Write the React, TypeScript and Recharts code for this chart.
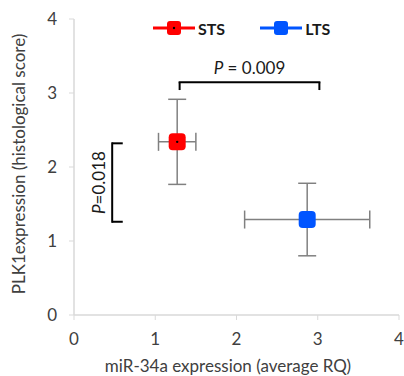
import {
  ScatterChart,
  Scatter,
  XAxis,
  YAxis,
  ErrorBar,
  ReferenceLine,
  ReferenceDot,
  Legend,
} from "recharts";

// groups and their means / errors
const groups = ["STS", "LTS"];
const groupColors = ["#ff0000", "#0055ff"];
const mirMean = [1.27, 2.87];
const mirErr = [0.23, 0.77];
const plkMean = [2.34, 1.29];
const plkErr = [0.575, 0.49];
const axisTicks = [0, 1, 2, 3, 4];

// significance brackets (data coordinates)
const topBracket = { x1: 1.3, x2: 3.02, y: 3.145, tip: 3.04, p: "0.009" };
const sideBracket = { x: 0.47, tip: 0.6, y1: 1.26, y2: 2.32, p: "0.018" };

const font = "Lato, 'Open Sans', sans-serif";
const textColor = "#404040";
const axisColor = "#d9d9d9";

const seriesData = groups.map((g, i) => [
  { x: mirMean[i], y: plkMean[i], xErr: mirErr[i], yErr: plkErr[i] },
]);

function RoundSquare(props: any) {
  const { cx, cy, fill, dot } = props;
  const s = 17;
  return (
    <g>
      <rect x={cx - s / 2} y={cy - s / 2} width={s} height={s} rx={4} fill={fill} />
      {dot && <circle cx={cx} cy={cy} r={1.2} fill="#000" />}
    </g>
  );
}

function renderLegend() {
  return (
    <div style={{ display: "flex", alignItems: "center", fontFamily: font }}>
      {groups.map((g, i) => (
        <div
          key={g}
          style={{ display: "flex", alignItems: "center", marginRight: i === 0 ? 35 : 0 }}
        >
          <svg width={42} height={20} style={{ display: "block" }}>
            <line x1={0} y1={10} x2={42} y2={10} stroke={groupColors[i]} strokeWidth={3} />
            <rect x={14} y={3} width={14} height={14} rx={3} fill={groupColors[i]} />
            {i === 0 && <circle cx={21} cy={10} r={1.2} fill="#000" />}
          </svg>
          <span style={{ fontWeight: 700, fontSize: 16, marginLeft: 3, color: "#1a1a1a" }}>
            {g}
          </span>
        </div>
      ))}
    </div>
  );
}

export default function App() {
  return (
    <div style={{ position: "absolute", left: 0, top: 0, background: "#fff" }}>
      <ScatterChart
        width={404}
        height={376}
        margin={{ top: 19, right: 5, bottom: 0, left: 0 }}
      >
        <XAxis
          type="number"
          dataKey="x"
          domain={[0, 4]}
          ticks={axisTicks}
          height={61}
          tickSize={5}
          tickMargin={13}
          axisLine={{ stroke: axisColor, strokeWidth: 1.5 }}
          tickLine={{ stroke: axisColor }}
          tick={{ fill: textColor, fontSize: 17, fontFamily: font }}
          label={{
            content: () => (
              <text
                x={228}
                y={372}
                textAnchor="middle"
                fill={textColor}
                fontSize={17}
                fontFamily={font}
              >
                miR-34a expression (average RQ)
              </text>
            ),
          }}
        />
        <YAxis
          type="number"
          dataKey="y"
          domain={[0, 4]}
          ticks={axisTicks}
          width={74}
          tickSize={5}
          tickMargin={12}
          axisLine={{ stroke: axisColor, strokeWidth: 1.5 }}
          tickLine={{ stroke: axisColor }}
          tick={{ fill: textColor, fontSize: 17, fontFamily: font }}
          label={{
            content: () => (
              <text
                x={25}
                y={164}
                transform="rotate(-90, 25, 164)"
                textAnchor="middle"
                fill={textColor}
                fontSize={17}
                fontFamily={font}
              >
                PLK1expression (histological score)
              </text>
            ),
          }}
        />
        <Legend
          verticalAlign="middle"
          align="center"
          wrapperStyle={{ top: 18, left: 153, width: "auto" }}
          content={renderLegend}
        />

        {/* top bracket */}
        <ReferenceLine
          segment={[{ x: topBracket.x1, y: topBracket.y }, { x: topBracket.x2, y: topBracket.y }]}
          stroke="#000"
          strokeWidth={2}
          strokeLinecap="square"
        />
        <ReferenceLine
          segment={[{ x: topBracket.x1, y: topBracket.y }, { x: topBracket.x1, y: topBracket.tip }]}
          stroke="#000"
          strokeWidth={2}
        />
        <ReferenceLine
          segment={[{ x: topBracket.x2, y: topBracket.y }, { x: topBracket.x2, y: topBracket.tip }]}
          stroke="#000"
          strokeWidth={2}
        />
        <ReferenceDot
          x={(topBracket.x1 + topBracket.x2) / 2}
          y={topBracket.y}
          r={0}
          stroke="none"
          label={{
            content: (p: any) => (
              <text
                x={p.viewBox.x}
                y={p.viewBox.y - 8.5}
                textAnchor="middle"
                fill="#1a1a1a"
                fontSize={17}
                fontFamily={font}
              >
                <tspan fontStyle="italic">P</tspan> = {topBracket.p}
              </text>
            ),
          }}
        />

        {/* side bracket */}
        <ReferenceLine
          segment={[{ x: sideBracket.x, y: sideBracket.y1 }, { x: sideBracket.x, y: sideBracket.y2 }]}
          stroke="#000"
          strokeWidth={2}
          strokeLinecap="square"
        />
        <ReferenceLine
          segment={[{ x: sideBracket.x, y: sideBracket.y1 }, { x: sideBracket.tip, y: sideBracket.y1 }]}
          stroke="#000"
          strokeWidth={2}
        />
        <ReferenceLine
          segment={[{ x: sideBracket.x, y: sideBracket.y2 }, { x: sideBracket.tip, y: sideBracket.y2 }]}
          stroke="#000"
          strokeWidth={2}
        />
        <ReferenceDot
          x={sideBracket.x}
          y={(sideBracket.y1 + sideBracket.y2) / 2}
          r={0}
          stroke="none"
          label={{
            content: (p: any) => {
              const tx = p.viewBox.x - 7;
              const ty = p.viewBox.y;
              return (
                <text
                  x={tx}
                  y={ty}
                  transform={`rotate(-90, ${tx}, ${ty})`}
                  textAnchor="middle"
                  fill="#1a1a1a"
                  fontSize={17}
                  fontFamily={font}
                >
                  <tspan fontStyle="italic">P</tspan>={sideBracket.p}
                </text>
              );
            },
          }}
        />

        {groups.map((g, i) => (
          <Scatter
            key={g}
            name={g}
            data={seriesData[i]}
            fill={groupColors[i]}
            isAnimationActive={false}
            shape={(p: any) => <RoundSquare {...p} dot={i === 0} />}
          >
            <ErrorBar dataKey="xErr" direction="x" width={9} stroke="#808080" strokeWidth={1.5} />
            <ErrorBar dataKey="yErr" direction="y" width={9} stroke="#808080" strokeWidth={1.5} />
          </Scatter>
        ))}
      </ScatterChart>
    </div>
  );
}
